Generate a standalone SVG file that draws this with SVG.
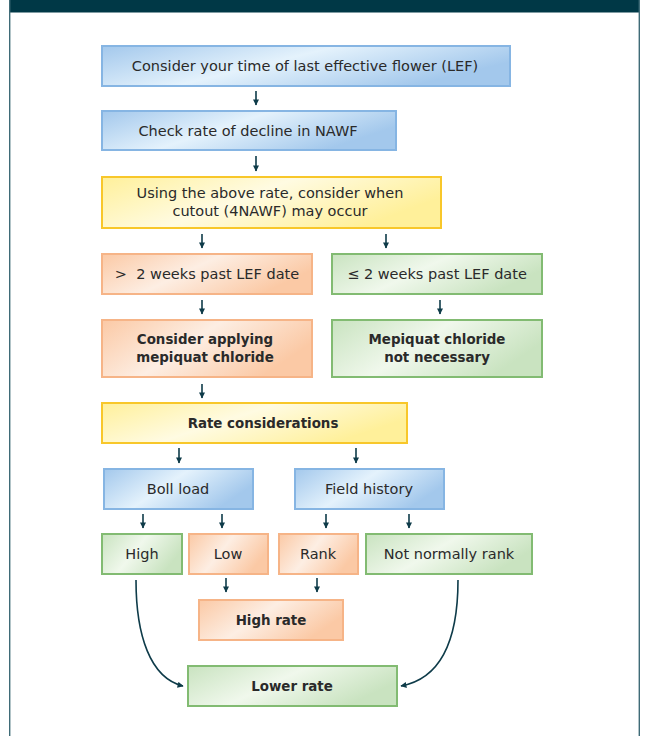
<svg xmlns="http://www.w3.org/2000/svg" width="646" height="736" viewBox="0 0 646 736">
<defs>
<linearGradient id="gBlue" x1="0" y1="0" x2="1" y2="0.4">
<stop offset="0" stop-color="#a3c8ec"/><stop offset="0.5" stop-color="#e4f2fc"/><stop offset="1" stop-color="#a3c8ec"/>
</linearGradient>
<linearGradient id="gYellow" x1="0" y1="0" x2="1" y2="0.4">
<stop offset="0" stop-color="#fff09a"/><stop offset="0.5" stop-color="#fffbe2"/><stop offset="1" stop-color="#fff09a"/>
</linearGradient>
<linearGradient id="gOrange" x1="0" y1="0" x2="1" y2="0.4">
<stop offset="0" stop-color="#fbc9a5"/><stop offset="0.5" stop-color="#fdeee3"/><stop offset="1" stop-color="#fbc9a5"/>
</linearGradient>
<linearGradient id="gGreen" x1="0" y1="0" x2="1" y2="0.4">
<stop offset="0" stop-color="#c9e3c0"/><stop offset="0.5" stop-color="#f0f8ec"/><stop offset="1" stop-color="#c9e3c0"/>
</linearGradient>
<marker id="ah" viewBox="0 0 10 10" refX="9" refY="5" markerWidth="7" markerHeight="6" markerUnits="userSpaceOnUse" orient="auto">
<path d="M0,0 L10,5 L0,10 Z" fill="#0e3b49"/>
</marker>
<style>
.blue{fill:url(#gBlue);stroke:#86b5e3;stroke-width:2}
.yellow{fill:url(#gYellow);stroke:#f8c72a;stroke-width:2}
.orange{fill:url(#gOrange);stroke:#f6b487;stroke-width:2}
.green{fill:url(#gGreen);stroke:#82bb72;stroke-width:2}
text{font-family:"DejaVu Sans","Open Sans",sans-serif;font-size:14.5px;fill:#2a2a2a;text-anchor:middle;dominant-baseline:central}
.b{font-weight:700;font-size:13.4px}
.c{fill:none;stroke:#0e3b49;stroke-width:1.6;marker-end:url(#ah)}
</style>
</defs>
<rect x="0" y="0" width="646" height="736" fill="#ffffff"/>
<g id="panel">
<rect x="9" y="0" width="631" height="12.5" fill="#003846"/>
<line x1="9.7" y1="0" x2="9.7" y2="736" stroke="#3f6b77" stroke-width="1.4"/>
<line x1="639.3" y1="0" x2="639.3" y2="736" stroke="#3f6b77" stroke-width="1.4"/>
</g>
<g id="connectors">
<path class="c" d="M256,91 V105"/>
<path class="c" d="M256,156 V171"/>
<path class="c" d="M202,234 V248"/>
<path class="c" d="M386,234 V248"/>
<path class="c" d="M202,300 V314"/>
<path class="c" d="M440,300 V314"/>
<path class="c" d="M202,384 V398"/>
<path class="c" d="M179,448 V463"/>
<path class="c" d="M356,448 V463"/>
<path class="c" d="M143,514 V528"/>
<path class="c" d="M222,514 V528"/>
<path class="c" d="M326,514 V528"/>
<path class="c" d="M409,514 V528"/>
<path class="c" d="M226,578 V592"/>
<path class="c" d="M317,578 V592"/>
<path class="c" d="M136,580 C136,635 150,678 183,686"/>
<path class="c" d="M458,580 C458,635 444,678 401,686"/>
</g>
<g id="n1"><rect class="blue" x="102" y="46" width="408" height="40"/><text x="305" y="66">Consider your time of last effective flower (LEF)</text></g>
<g id="n2"><rect class="blue" x="102" y="111" width="294" height="39"/><text x="248" y="131">Check rate of decline in NAWF</text></g>
<g id="n3"><rect class="yellow" x="102" y="177" width="339" height="51"/><text x="270" y="193">Using the above rate, consider when</text><text x="270" y="211">cutout (4NAWF) may occur</text></g>
<g id="n4"><rect class="orange" x="102" y="254" width="210" height="40"/><text x="207" y="274">&gt;&#160; 2 weeks past LEF date</text></g>
<g id="n5"><rect class="green" x="332" y="254" width="210" height="40"/><text x="437" y="274">≤ 2 weeks past LEF date</text></g>
<g id="n6"><rect class="orange" x="102" y="320" width="210" height="57"/><text class="b" x="205" y="339">Consider applying</text><text class="b" x="205" y="357">mepiquat chloride</text></g>
<g id="n7"><rect class="green" x="332" y="320" width="210" height="57"/><text class="b" x="437" y="339">Mepiquat chloride</text><text class="b" x="437" y="357">not necessary</text></g>
<g id="n8"><rect class="yellow" x="102" y="403" width="305" height="40"/><text class="b" x="263" y="423">Rate considerations</text></g>
<g id="n9"><rect class="blue" x="104" y="469" width="149" height="40"/><text x="178" y="489">Boll load</text></g>
<g id="n10"><rect class="blue" x="295" y="469" width="149" height="40"/><text x="369" y="489">Field history</text></g>
<g id="n11"><rect class="green" x="102" y="534" width="80" height="40"/><text x="142" y="554">High</text></g>
<g id="n12"><rect class="orange" x="189" y="534" width="79" height="40"/><text x="228" y="554">Low</text></g>
<g id="n13"><rect class="orange" x="279" y="534" width="79" height="40"/><text x="318" y="554">Rank</text></g>
<g id="n14"><rect class="green" x="366" y="534" width="166" height="40"/><text x="449" y="554">Not normally rank</text></g>
<g id="n15"><rect class="orange" x="199" y="600" width="144" height="40"/><text class="b" x="271" y="620">High rate</text></g>
<g id="n16"><rect class="green" x="188" y="666" width="209" height="40"/><text class="b" x="292" y="686">Lower rate</text></g>
</svg>
